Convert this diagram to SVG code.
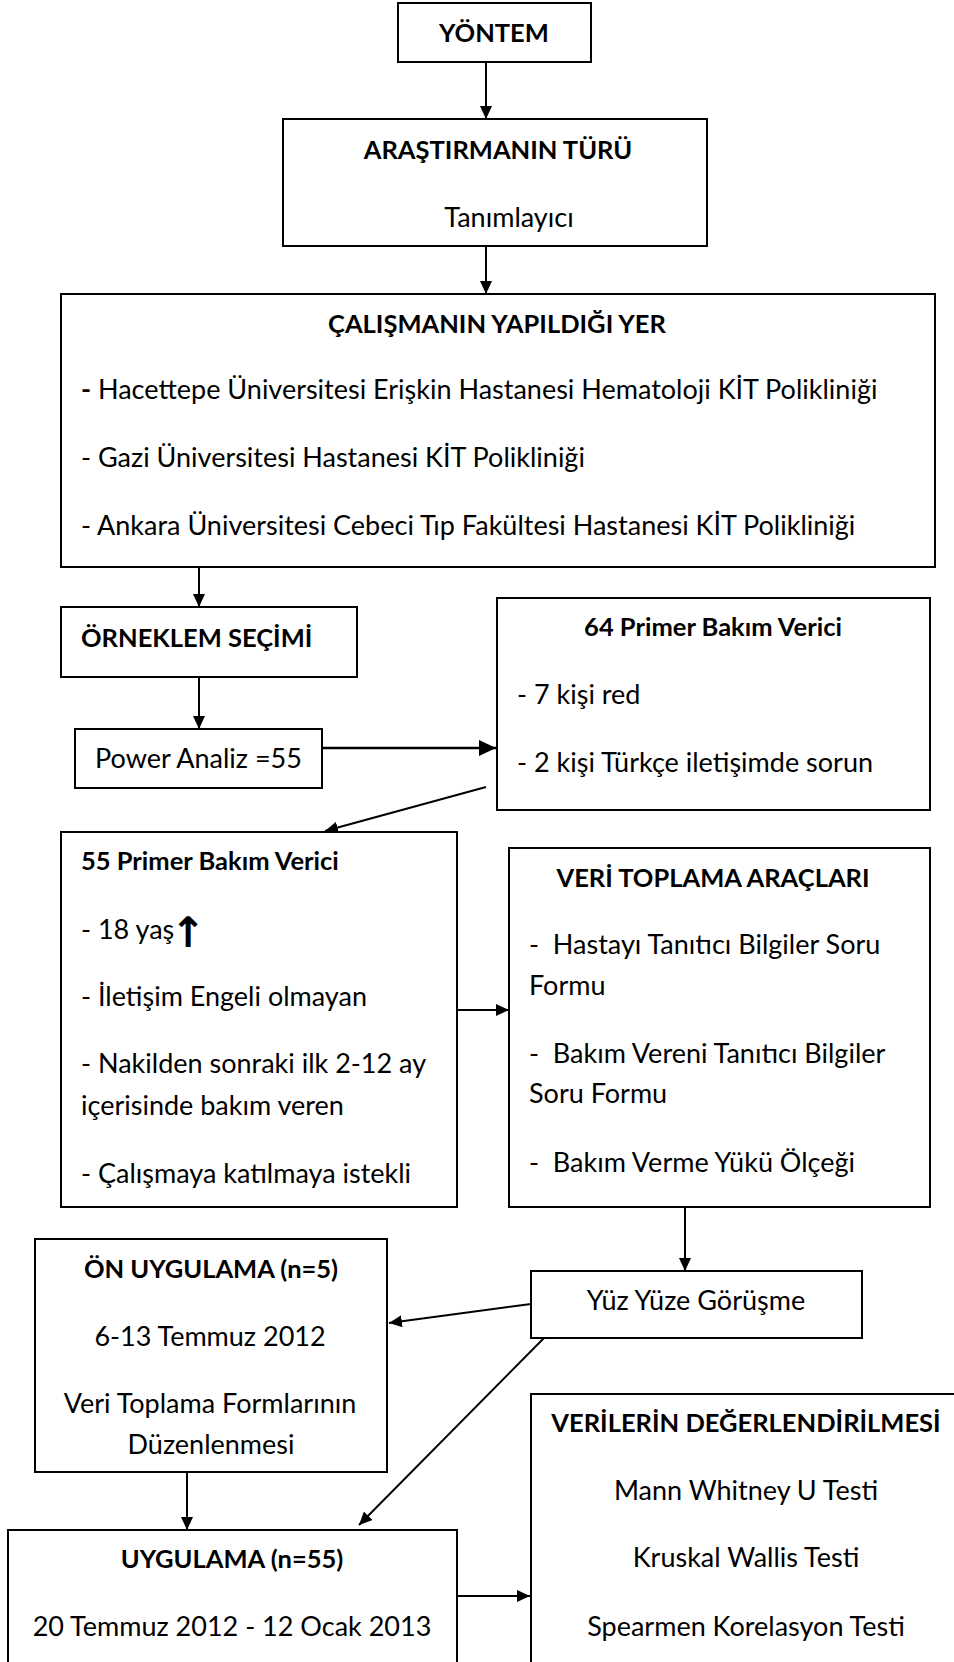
<svg xmlns="http://www.w3.org/2000/svg" width="954" height="1662" viewBox="0 0 954 1662">
<defs>
<style>
.box{fill:#fff;stroke:#000;stroke-width:2}
text{font-family:Lato,"Liberation Sans",sans-serif;font-size:27px;fill:#000;white-space:pre}
.b{font-weight:bold;font-size:25.5px}
.c{text-anchor:middle}
.ln{stroke:#000;stroke-width:2;fill:none}
.thick{stroke-width:2.6}
.sym{font-family:"DejaVu Sans",sans-serif;font-weight:bold;font-size:42px;text-anchor:middle}
</style>
<marker id="ah" markerUnits="userSpaceOnUse" markerWidth="14" markerHeight="12" refX="13" refY="6" orient="auto" viewBox="0 0 14 12">
<path d="M0,0 L13,6 L0,12 Z" fill="#000"/>
</marker>
<marker id="ahb" markerUnits="userSpaceOnUse" markerWidth="18" markerHeight="16" refX="17" refY="8" orient="auto" viewBox="0 0 18 16">
<path d="M0,0 L17,8 L0,16 Z" fill="#000"/>
</marker>
</defs>
<rect width="954" height="1662" fill="#fff"/>
<g id="connectors">
<line class="ln" x1="486" y1="62" x2="486" y2="119" marker-end="url(#ah)"/>
<line class="ln" x1="486" y1="246" x2="486" y2="294" marker-end="url(#ah)"/>
<line class="ln" x1="199" y1="567" x2="199" y2="607" marker-end="url(#ah)"/>
<line class="ln" x1="199" y1="677" x2="199" y2="729" marker-end="url(#ah)"/>
<line class="ln thick" x1="322" y1="748" x2="496" y2="748" marker-end="url(#ahb)"/>
<line class="ln" x1="486" y1="787" x2="325" y2="831" marker-end="url(#ah)"/>
<line class="ln" x1="457" y1="1010" x2="509" y2="1010" marker-end="url(#ah)"/>
<line class="ln" x1="685" y1="1207" x2="685" y2="1271" marker-end="url(#ah)"/>
<line class="ln" x1="531" y1="1304" x2="389" y2="1323" marker-end="url(#ah)"/>
<line class="ln" x1="187" y1="1472" x2="187" y2="1530" marker-end="url(#ah)"/>
<line class="ln" x1="544" y1="1338" x2="359" y2="1525" marker-end="url(#ah)"/>
<line class="ln" x1="457" y1="1596" x2="530" y2="1596" marker-end="url(#ah)"/>
</g>
<g id="yontem">
<rect class="box" x="398" y="3" width="193" height="59"/>
<text class="b c" x="494" y="42">YÖNTEM</text>
</g>
<g id="arastirma">
<rect class="box" x="283" y="119" width="424" height="127"/>
<text class="b c" x="498" y="159">ARAŞTIRMANIN TÜRÜ</text>
<text class="c" x="509" y="227">Tanımlayıcı</text>
</g>
<g id="calisma">
<rect class="box" x="61" y="294" width="874" height="273"/>
<text class="b c" x="497" y="333">ÇALIŞMANIN YAPILDIĞI YER</text>
<text x="81" y="399"><tspan font-weight="bold">-</tspan> Hacettepe Üniversitesi Erişkin Hastanesi Hematoloji KİT Polikliniği</text>
<text x="81" y="467">- Gazi Üniversitesi Hastanesi KİT Polikliniği</text>
<text x="81" y="535">- Ankara Üniversitesi Cebeci Tıp Fakültesi Hastanesi KİT Polikliniği</text>
</g>
<g id="orneklem">
<rect class="box" x="61" y="607" width="296" height="70"/>
<text class="b" x="81" y="647">ÖRNEKLEM SEÇİMİ</text>
</g>
<g id="power">
<rect class="box" x="75" y="729" width="247" height="59"/>
<text class="c" x="198.5" y="768">Power Analiz =55</text>
</g>
<g id="primer64">
<rect class="box" x="497" y="598" width="433" height="212"/>
<text class="b c" x="713" y="636">64 Primer Bakım Verici</text>
<text x="517" y="704">- 7 kişi red</text>
<text x="517" y="772">- 2 kişi Türkçe iletişimde sorun</text>
</g>
<g id="primer55">
<rect class="box" x="61" y="832" width="396" height="375"/>
<text class="b" x="81" y="870">55 Primer Bakım Verici</text>
<text x="81" y="939">- 18 yaş</text>
<text class="sym" x="188" y="947">↑</text>
<text x="81" y="1006">- İletişim Engeli olmayan</text>
<text x="81" y="1073">- Nakilden sonraki ilk 2-12 ay</text>
<text x="81" y="1115">içerisinde bakım veren</text>
<text x="81" y="1183">- Çalışmaya katılmaya istekli</text>
</g>
<g id="veri">
<rect class="box" x="509" y="848" width="421" height="359"/>
<text class="b c" x="713" y="887">VERİ TOPLAMA ARAÇLARI</text>
<text x="529" y="954">-  Hastayı Tanıtıcı Bilgiler Soru</text>
<text x="529" y="995">Formu</text>
<text x="529" y="1063">-  Bakım Vereni Tanıtıcı Bilgiler</text>
<text x="529" y="1103">Soru Formu</text>
<text x="529" y="1172">-  Bakım Verme Yükü Ölçeği</text>
</g>
<g id="on">
<rect class="box" x="35" y="1239" width="352" height="233"/>
<text class="b c" x="211" y="1278">ÖN UYGULAMA (n=5)</text>
<text class="c" x="210" y="1346">6-13 Temmuz 2012</text>
<text class="c" x="210" y="1413">Veri Toplama Formlarının</text>
<text class="c" x="211" y="1454">Düzenlenmesi</text>
</g>
<g id="yuz">
<rect class="box" x="531" y="1271" width="331" height="67"/>
<text class="c" x="696" y="1310">Yüz Yüze Görüşme</text>
</g>
<g id="uygulama">
<rect class="box" x="8" y="1530" width="449" height="150"/>
<text class="b c" x="232" y="1568">UYGULAMA (n=55)</text>
<text class="c" x="232" y="1636">20 Temmuz 2012 - 12 Ocak 2013</text>
</g>
<g id="verilerin">
<rect class="box" x="531" y="1394" width="440" height="290"/>
<text class="b c" x="746" y="1432">VERİLERİN DEĞERLENDİRİLMESİ</text>
<text class="c" x="746" y="1500">Mann Whitney U Testi</text>
<text class="c" x="746" y="1567">Kruskal Wallis Testi</text>
<text class="c" x="746" y="1636">Spearmen Korelasyon Testi</text>
</g>
</svg>
